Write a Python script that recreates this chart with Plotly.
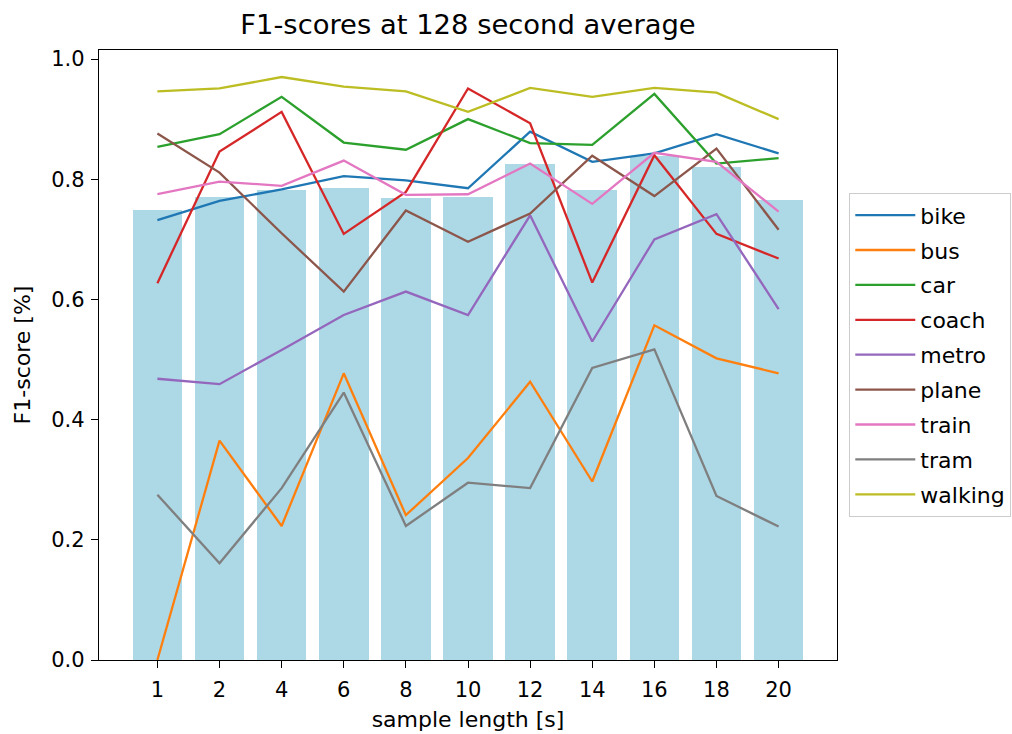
import plotly.graph_objects as go

sample_lengths = ["1", "2", "4", "6", "8", "10", "12", "14", "16", "18", "20"]
bar_values = [0.749, 0.771, 0.782, 0.785, 0.769, 0.771, 0.826, 0.782, 0.838, 0.821, 0.765]

bike = [0.732, 0.764, 0.783, 0.805, 0.798, 0.785, 0.879, 0.829, 0.843, 0.875, 0.843]
bus = [0.0, 0.365, 0.223, 0.477, 0.241, 0.336, 0.463, 0.297, 0.557, 0.502, 0.477]
car = [0.854, 0.875, 0.937, 0.861, 0.849, 0.900, 0.860, 0.857, 0.942, 0.826, 0.835]
coach = [0.627, 0.846, 0.912, 0.709, 0.779, 0.951, 0.893, 0.628, 0.840, 0.709, 0.668]
metro = [0.468, 0.459, 0.516, 0.574, 0.613, 0.574, 0.740, 0.530, 0.700, 0.742, 0.584]
plane = [0.876, 0.811, 0.710, 0.613, 0.748, 0.696, 0.743, 0.839, 0.772, 0.851, 0.716]
train = [0.775, 0.796, 0.789, 0.831, 0.774, 0.775, 0.826, 0.759, 0.844, 0.829, 0.746]
tram = [0.275, 0.161, 0.286, 0.445, 0.223, 0.295, 0.286, 0.486, 0.517, 0.273, 0.222]
walking = [0.946, 0.951, 0.970, 0.954, 0.946, 0.912, 0.952, 0.937, 0.952, 0.944, 0.900]

series_names = ["bike", "bus", "car", "coach", "metro", "plane", "train", "tram", "walking"]
series_values = [bike, bus, car, coach, metro, plane, train, tram, walking]
colors = ["#1f77b4", "#ff7f0e", "#2ca02c", "#d62728", "#9467bd",
          "#8c564b", "#e377c2", "#7f7f7f", "#bcbd22"]

FONT = "DejaVu Sans"

fig = go.Figure()
fig.add_trace(go.Bar(x=sample_lengths, y=bar_values, width=0.8,
                     marker=dict(color="#ADD8E6", line=dict(width=0)),
                     showlegend=False, hoverinfo="skip"))
for name, vals, col in zip(series_names, series_values, colors):
    fig.add_trace(go.Scatter(x=sample_lengths, y=vals, mode="lines", name=name,
                             legendgroup=name,
                             line=dict(color=col, width=2.3)))

W, H = 1012, 734
L, R, T, B = 99, 1012 - 837, 50, 734 - 660

fig.update_layout(
    width=W, height=H,
    margin=dict(l=L, r=R, t=T, b=B, pad=0, autoexpand=False),
    paper_bgcolor="white", plot_bgcolor="white",
    font=dict(family=FONT, size=21, color="black"),
    title=dict(text="F1-scores at 128 second average", x=(L + 837) / 2 / W,
               xanchor="center", y=1 - 24 / H, yanchor="middle",
               font=dict(size=27.4, color="black")),
    showlegend=True,
    legend=dict(x=1 + (849 - 837) / (837 - L), xanchor="left",
                y=0.5, yanchor="middle",
                bordercolor="#cccccc", borderwidth=1.3, bgcolor="white",
                font=dict(size=22, color="black"),
                tracegroupgap=3.3, itemwidth=60),
    bargap=0,
)
fig.update_xaxes(type="category", range=[-0.94, 10.94],
                 showline=True, linecolor="black", linewidth=1.4, mirror=True,
                 ticks="outside", ticklen=7, tickwidth=1.4, tickcolor="black",
                 ticklabelstandoff=4,
                 showgrid=False, zeroline=False,
                 title=dict(text="sample length [s]", font=dict(size=22), standoff=10))
fig.update_yaxes(range=[0, 1.015], tickvals=[0, 0.2, 0.4, 0.6, 0.8, 1.0],
                 ticktext=["0.0", "0.2", "0.4", "0.6", "0.8", "1.0"],
                 showline=True, linecolor="black", linewidth=1.4, mirror=True,
                 ticks="outside", ticklen=7, tickwidth=1.4, tickcolor="black",
                 ticklabelstandoff=2,
                 showgrid=False, zeroline=False,
                 title=dict(text="F1-score [%]", font=dict(size=22), standoff=14))

fig.write_html("out.html")
